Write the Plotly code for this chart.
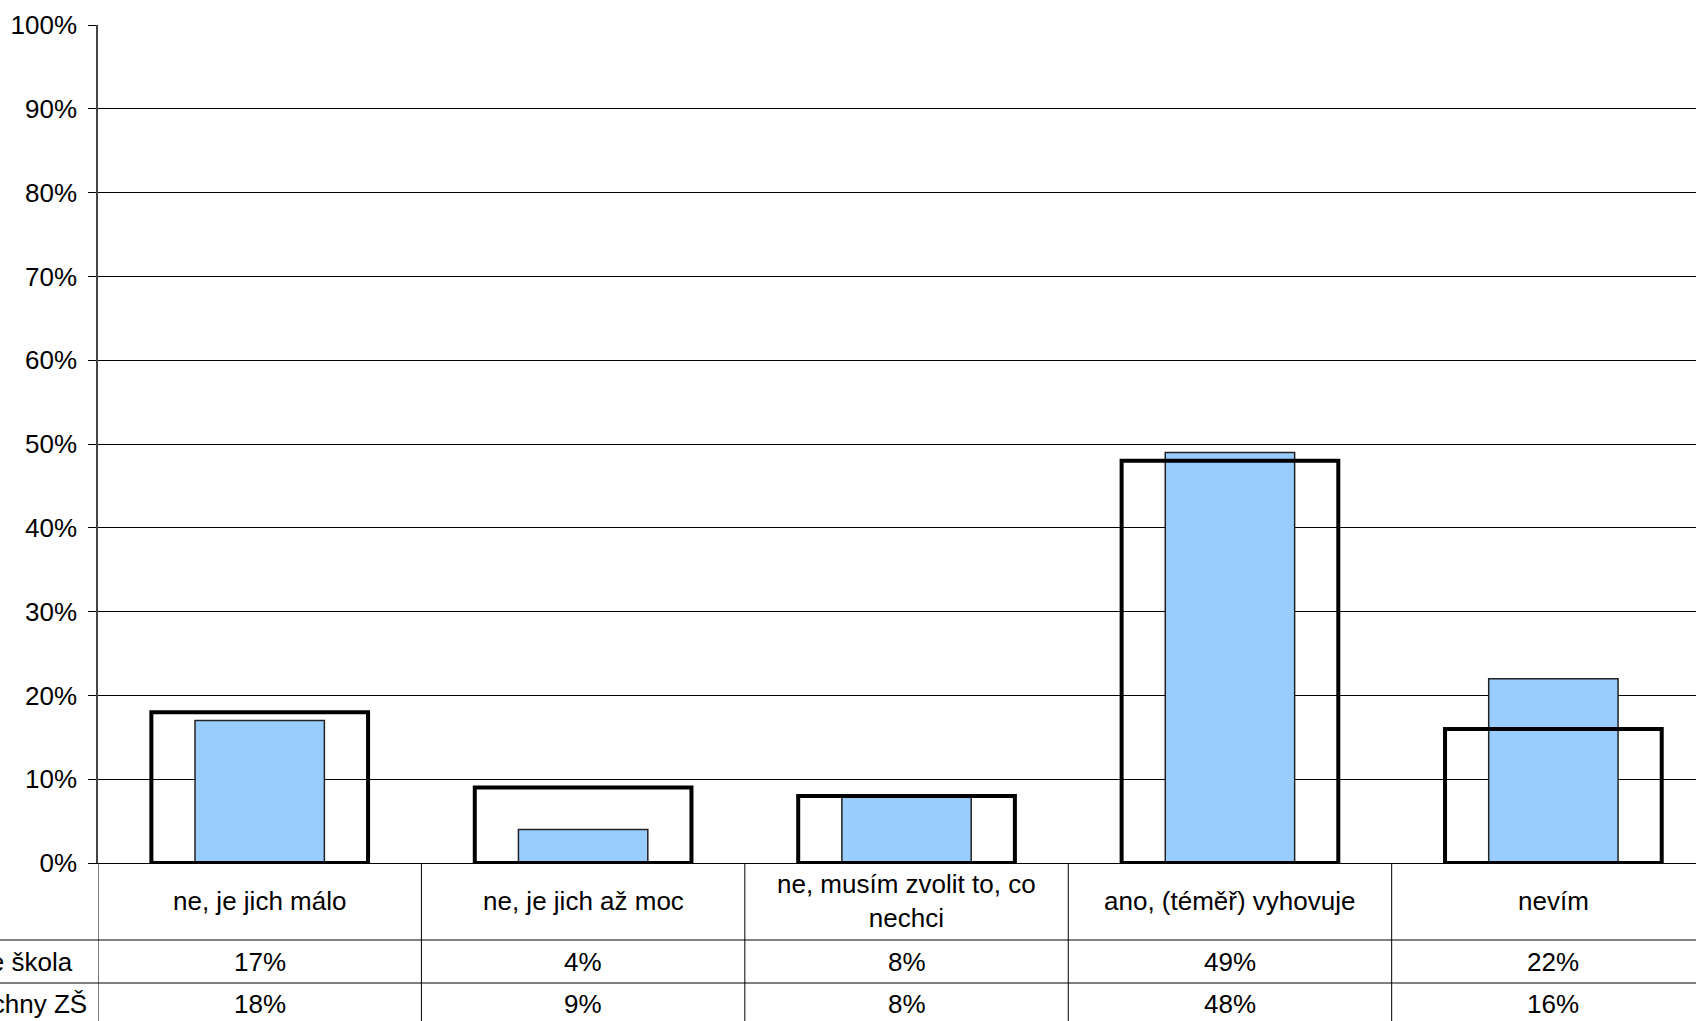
import plotly.graph_objects as go

categories = ["ne, je jich málo", "ne, je jich až moc", "ne, musím zvolit to, co<br>nechci",
              "ano, (téměř) vyhovuje", "nevím"]
series_names = ["Vaše škola", "Všechny ZŠ"]
vase_skola = [0.17, 0.04, 0.08, 0.49, 0.22]
vsechny_zs = [0.18, 0.09, 0.08, 0.48, 0.16]

PAGE_W, PAGE_H = 1696, 1021
W, H = PAGE_W, PAGE_H
PLOT_L, PLOT_T, PLOT_B = 98, 25, 863
L, T = PLOT_L, PLOT_T
B = H - PLOT_B
plot_h = PLOT_B - PLOT_T
plot_w = PAGE_W - PLOT_L
FONT = "Liberation Sans, Arial, sans-serif"
FS = 26

def py(p):
    return (PLOT_B - p) / plot_h

def px(p):
    return (p - PLOT_L) / plot_w

xs = list(range(len(categories)))

fig = go.Figure()
fig.add_trace(go.Bar(x=xs, y=vase_skola, width=0.40, name=series_names[0],
                     marker=dict(color="#99CCFF", line=dict(color="#222222", width=1.5))))
fig.add_trace(go.Bar(x=xs, y=vsechny_zs, width=0.67, name=series_names[1],
                     marker=dict(color="rgba(0,0,0,0)", line=dict(color="#000000", width=4))))

shapes = []
for i in range(len(categories) + 1):
    shapes.append(dict(type="line", xref="x", yref="paper", x0=i - 0.5, x1=i - 0.5,
                       y0=0, y1=py(PAGE_H + 20), line=dict(color="#000000", width=1)))
for p in [940, 983]:
    shapes.append(dict(type="line", xref="paper", yref="paper", x0=px(0), x1=1.0,
                       y0=py(p), y1=py(p), line=dict(color="#000000", width=1)))

annotations = []
for i, c in enumerate(categories):
    annotations.append(dict(x=i, y=py(901), xref="x", yref="paper", text=c, showarrow=False,
                            xanchor="center", yanchor="middle",
                            font=dict(family=FONT, size=FS, color="#000")))
    annotations.append(dict(x=i, y=py(961.5), xref="x", yref="paper",
                            text=f"{round(vase_skola[i]*100)}%", showarrow=False,
                            xanchor="center", yanchor="middle",
                            font=dict(family=FONT, size=FS, color="#000")))
    annotations.append(dict(x=i, y=py(1004), xref="x", yref="paper",
                            text=f"{round(vsechny_zs[i]*100)}%", showarrow=False,
                            xanchor="center", yanchor="middle",
                            font=dict(family=FONT, size=FS, color="#000")))
label_start = 72 - 4.891 * FS
for name, yc in zip(series_names, [961.5, 1004]):
    annotations.append(dict(x=px(label_start), y=py(yc), xref="paper", yref="paper", text=name,
                            showarrow=False, xanchor="left", yanchor="middle",
                            font=dict(family=FONT, size=FS, color="#000")))

fig.update_layout(
    width=W, height=H,
    margin=dict(l=L, r=0, t=T, b=B, pad=0),
    paper_bgcolor="white", plot_bgcolor="white",
    barmode="overlay", showlegend=False,
    shapes=shapes, annotations=annotations,
    font=dict(family=FONT, size=FS, color="#000"),
)
fig.update_xaxes(range=[-0.5, 4.441], showticklabels=False, showgrid=False,
                 showline=True, linecolor="#000", linewidth=1, zeroline=False, ticks="")
fig.update_yaxes(range=[0, 1], dtick=0.1, tickformat=".0%", showgrid=True,
                 gridcolor="#000", gridwidth=1, showline=True, linecolor="#444", linewidth=1.5,
                 ticks="outside", ticklen=8, tickcolor="#000", ticklabelstandoff=6,
                 zeroline=False, tickfont=dict(family=FONT, size=FS, color="#000"))

fig.write_html("out.html", config={"displayModeBar": False},
               post_script="document.body.style.margin='0';document.body.style.overflow='hidden';")
